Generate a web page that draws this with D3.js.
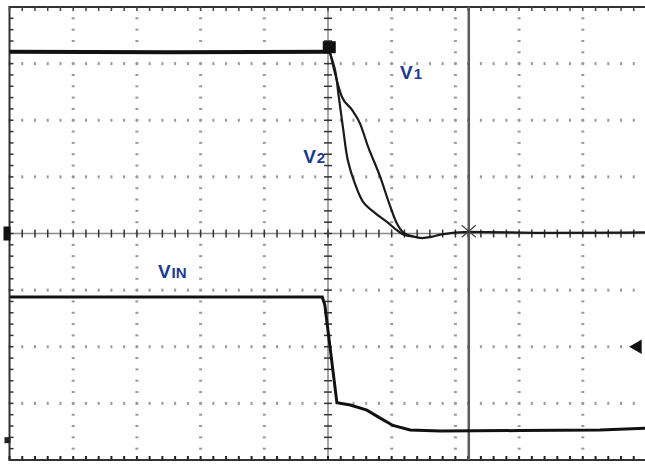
<!DOCTYPE html>
<html>
<head>
<meta charset="utf-8">
<script src="https://cdn.jsdelivr.net/npm/d3@7/dist/d3.min.js"></script>
<style>
  body { margin: 0; background: #fff; }
  svg { display: block; }
  .etiqueta { font-family: "Liberation Sans", Arial, sans-serif; font-weight: bold; fill: #1c3990; }
</style>
</head>
<body>
<div id="graf"></div>
<script>
var nivelAlto = [[-5, 3.21], [-2.5, 3.2], [0.03, 3.21]]

var curvaV1 = [[0.03, 3.21], [0.22, 2.41], [0.38, 2.18], [0.5, 1.95], [0.63, 1.53],
  [0.82, 1.0], [0.97, 0.5], [1.08, 0.18], [1.19, 0.01], [1.33, -0.05], [1.48, -0.08],
  [1.62, -0.06], [1.76, -0.02], [2.21, 0.03], [3.5, 0.01], [4.98, 0.02]]

var curvaV2 = [[0.03, 3.19], [0.11, 2.89], [0.17, 2.41], [0.24, 1.83], [0.31, 1.3],
  [0.42, 0.89], [0.55, 0.56], [0.74, 0.36], [0.93, 0.2], [1.08, 0.06], [1.21, -0.03], [1.33, -0.05]]

var curvaVin = [[-4.99, -1.12], [-0.09, -1.12], [-0.05, -1.26], [0.14, -2.99], [0.35, -3.03],
  [0.61, -3.12], [0.82, -3.26], [1.02, -3.39], [1.29, -3.47], [1.76, -3.49], [3.0, -3.48],
  [4.27, -3.47], [4.98, -3.44]]

var cursorX = 2.21
var marcaDisparo = [0.02, 3.29]
var marcaTierra = [0, -3.65]
var nivelTrigger = -2.0

// etiquetas [texto, subindice, x, y]
var etiquetas = [['V', '1', 1.13, 2.72], ['V', '2', -0.39, 1.25], ['V', 'IN', -2.67, -0.79]]

// configuracion
var ancho = 645, alto = 466
var svg = d3.select('#graf').append('svg')
  .attr('width', ancho)
  .attr('height', alto)

var x = d3.scaleLinear().domain([-5, 5]).range([9.5, 646.5])
var y = d3.scaleLinear().domain([-4, 4]).range([460, 7])

var gGrid = svg.append('g')

// lineas punteadas de la reticula
d3.range(-4, 5).filter(k => k != 0).forEach(k => {
  d3.range(-20, 21).forEach(j => {
    gGrid.append('rect')
      .attr('x', x(k) - 1.5).attr('y', y(j * 0.2) - 1)
      .attr('width', 3).attr('height', 2)
      .attr('fill', '#999')
  })
})
d3.range(-3, 4).filter(k => k != 0).forEach(k => {
  d3.range(-25, 26).forEach(j => {
    gGrid.append('rect')
      .attr('x', x(j * 0.2) - 1).attr('y', y(k) - 1.5)
      .attr('width', 2).attr('height', 3)
      .attr('fill', '#999')
  })
})

// ejes centrales con marcas
gGrid.append('line')
  .attr('x1', x(-5)).attr('x2', x(5)).attr('y1', y(0)).attr('y2', y(0))
  .attr('stroke', '#8a8a8a').attr('stroke-width', 1.5)
gGrid.append('line')
  .attr('x1', x(0)).attr('x2', x(0)).attr('y1', y(-4)).attr('y2', y(4))
  .attr('stroke', '#8a8a8a').attr('stroke-width', 1.5)
d3.range(-25, 26).forEach(j => {
  gGrid.append('line')
    .attr('x1', x(j * 0.2)).attr('x2', x(j * 0.2))
    .attr('y1', y(0) - 4).attr('y2', y(0) + 4)
    .attr('stroke', '#333').attr('stroke-width', 1.5)
})
d3.range(-20, 21).forEach(j => {
  gGrid.append('line')
    .attr('x1', x(0) - 4).attr('x2', x(0) + 4)
    .attr('y1', y(j * 0.2)).attr('y2', y(j * 0.2))
    .attr('stroke', '#333').attr('stroke-width', 1.5)
})

// borde con marcas hacia dentro
gGrid.append('rect')
  .attr('x', x(-5)).attr('y', y(4))
  .attr('width', x(5) - x(-5)).attr('height', y(-4) - y(4))
  .attr('fill', 'none').attr('stroke', '#333').attr('stroke-width', 2)
d3.range(-25, 26).forEach(j => {
  gGrid.append('line')
    .attr('x1', x(j * 0.2)).attr('x2', x(j * 0.2))
    .attr('y1', y(4)).attr('y2', y(4) + 4)
    .attr('stroke', '#444').attr('stroke-width', 1.5)
  gGrid.append('line')
    .attr('x1', x(j * 0.2)).attr('x2', x(j * 0.2))
    .attr('y1', y(-4)).attr('y2', y(-4) - 4)
    .attr('stroke', '#222').attr('stroke-width', 2)
})
d3.range(-20, 21).forEach(j => {
  gGrid.append('line')
    .attr('x1', x(-5)).attr('x2', x(-5) + 4)
    .attr('y1', y(j * 0.2)).attr('y2', y(j * 0.2))
    .attr('stroke', '#333').attr('stroke-width', 1.5)
})

// cursor vertical
svg.append('line')
  .attr('x1', x(cursorX)).attr('x2', x(cursorX))
  .attr('y1', y(4)).attr('y2', y(-4))
  .attr('stroke', '#5a5a5a').attr('stroke-width', 2.5)

// trazas
var linea = d3.line().x(d => x(d[0])).y(d => y(d[1]))

svg.append('path').datum(nivelAlto)
  .attr('d', linea).attr('fill', 'none')
  .attr('stroke', '#111').attr('stroke-width', 4)
svg.append('path').datum(curvaV1)
  .attr('d', d3.line().x(d => x(d[0])).y(d => y(d[1])).curve(d3.curveMonotoneX))
  .attr('fill', 'none').attr('stroke', '#1a1a1a').attr('stroke-width', 2.2)
svg.append('path').datum(curvaV2)
  .attr('d', d3.line().x(d => x(d[0])).y(d => y(d[1])).curve(d3.curveCatmullRom))
  .attr('fill', 'none').attr('stroke', '#1a1a1a').attr('stroke-width', 2.2)
svg.append('path').datum(curvaVin)
  .attr('d', linea).attr('fill', 'none')
  .attr('stroke', '#111').attr('stroke-width', 3)

// marcadores
svg.append('rect')
  .attr('x', x(marcaDisparo[0]) - 6.5).attr('y', y(marcaDisparo[1]) - 6)
  .attr('width', 13).attr('height', 12).attr('fill', '#111')

var cx = x(cursorX), cy = y(0.04)
svg.append('path')
  .attr('d', `M${cx - 7},${cy - 6}L${cx + 7},${cy + 6}M${cx - 7},${cy + 6}L${cx + 7},${cy - 6}`)
  .attr('stroke', '#444').attr('stroke-width', 1.2).attr('fill', 'none')

svg.append('rect')
  .attr('x', x(-5) - 6).attr('y', y(0) - 7)
  .attr('width', 7).attr('height', 14).attr('fill', '#111')
svg.append('rect')
  .attr('x', x(-5) - 5).attr('y', y(marcaTierra[1]) - 3)
  .attr('width', 6).attr('height', 6).attr('fill', '#222')

svg.append('path')
  .attr('d', d3.symbol(d3.symbolTriangle, 90))
  .attr('transform', `translate(${x(5) - 9}, ${y(nivelTrigger)}) rotate(-90)`)
  .attr('fill', '#111')

// etiquetas
etiquetas.forEach(e => {
  var t = svg.append('text')
    .attr('class', 'etiqueta')
    .attr('x', x(e[2])).attr('y', y(e[3]))
  t.append('tspan').attr('font-size', '19px').text(e[0])
  t.append('tspan').attr('font-size', '15px').attr('dx', 1).text(e[1])
})
</script>
</body>
</html>
